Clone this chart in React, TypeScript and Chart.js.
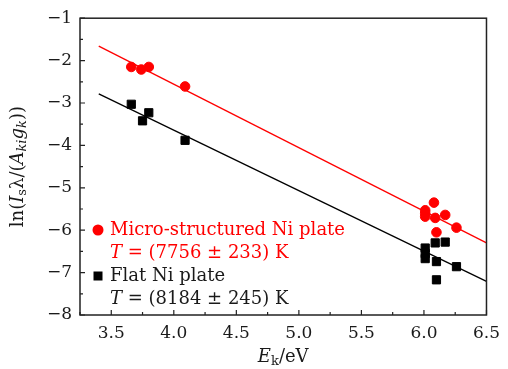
import React, { useEffect, useRef } from 'react';
import { Chart, registerables } from 'chart.js';

Chart.register(...registerables);

// ---- Data ----
const microX = [3.66, 3.74, 3.8, 4.09, 6.01, 6.01, 6.01, 6.08, 6.09, 6.1, 6.17, 6.26];
const microY = [-2.15, -2.21, -2.15, -2.61, -5.53, -5.6, -5.68, -5.35, -5.71, -6.05, -5.64, -5.94];
const flatX = [3.66, 3.75, 3.8, 4.09, 6.01, 6.01, 6.01, 6.09, 6.17, 6.1, 6.26, 6.1];
const flatY = [-3.03, -3.42, -3.23, -3.88, -6.42, -6.55, -6.67, -6.3, -6.28, -6.74, -6.86, -7.17];
const fitX = [3.4, 6.5];
const microFitY = [-1.66, -6.3];
const flatFitY = [-2.785, -7.205];
const xTicks = [3.5, 4.0, 4.5, 5.0, 5.5, 6.0, 6.5];
const yTicks = [-1, -2, -3, -4, -5, -6, -7, -8];
const xMinor = [3.25, 3.75, 4.25, 4.75, 5.25, 5.75, 6.25];
const yMinor = [-1.5, -2.5, -3.5, -4.5, -5.5, -6.5, -7.5];
const microLabel = 'Micro-structured Ni plate';
const microTemp = ' = (7756 ± 233) K';
const flatLabel = 'Flat Ni plate';
const flatTemp = ' = (8184 ± 245) K';

const FONT = "'DejaVu Serif', serif";
const TICK_SIZE = 17;
const SIZE = 18;
const RED = '#ff0000';
const BLACK = '#000000';
const TEXT = '#1a1a1a';

type Run = { t: string; i?: boolean; s?: boolean };

function fontFor(r: Run, size: number) {
  const sz = r.s ? Math.round(size * 0.7) : size;
  return `${r.i ? 'italic ' : ''}${sz}px ${FONT}`;
}

function drawRich(ctx: CanvasRenderingContext2D, runs: Run[], x: number, y: number, size: number, color: string, align: 'left' | 'center') {
  ctx.save();
  ctx.fillStyle = color;
  ctx.textBaseline = 'middle';
  ctx.textAlign = 'left';
  const widths = runs.map((r) => {
    ctx.font = fontFor(r, size);
    return ctx.measureText(r.t).width;
  });
  const total = widths.reduce((a, b) => a + b, 0);
  let cx = align === 'center' ? x - total / 2 : x;
  runs.forEach((r, k) => {
    ctx.font = fontFor(r, size);
    ctx.fillText(r.t, cx, r.s ? y + size * 0.28 : y);
    cx += widths[k];
  });
  ctx.restore();
}

const fmt = (v: number, d: number) => {
  const s = Math.abs(v).toFixed(d);
  return v < 0 ? '\u2212' + s : s;
};

const decorPlugin = {
  id: 'decor',
  afterDraw(chart: any) {
    const ctx: CanvasRenderingContext2D = chart.ctx;
    const { left, right, top, bottom } = chart.chartArea;
    const xs = chart.scales.x;
    const ys = chart.scales.y;
    ctx.save();
    // frame
    ctx.strokeStyle = '#222';
    ctx.lineWidth = 1.5;
    ctx.strokeRect(left, top, right - left, bottom - top);
    // ticks (inward)
    ctx.lineWidth = 1.2;
    ctx.beginPath();
    xTicks.forEach((v) => {
      const px = xs.getPixelForValue(v);
      ctx.moveTo(px, bottom);
      ctx.lineTo(px, bottom - 5);
    });
    xMinor.forEach((v) => {
      const px = xs.getPixelForValue(v);
      ctx.moveTo(px, bottom);
      ctx.lineTo(px, bottom - 3);
    });
    yTicks.forEach((v) => {
      const py = ys.getPixelForValue(v);
      ctx.moveTo(left, py);
      ctx.lineTo(left + 5, py);
    });
    yMinor.forEach((v) => {
      const py = ys.getPixelForValue(v);
      ctx.moveTo(left, py);
      ctx.lineTo(left + 3, py);
    });
    ctx.stroke();

    // x title
    drawRich(ctx, [{ t: 'E', i: true }, { t: 'k', s: true }, { t: '/eV' }], (left + right) / 2, 357, SIZE, TEXT, 'center');
    // y title
    ctx.save();
    ctx.translate(18, (top + bottom) / 2);
    ctx.rotate(-Math.PI / 2);
    drawRich(
      ctx,
      [
        { t: 'ln(' },
        { t: 'I', i: true },
        { t: 's', s: true },
        { t: 'λ/(' },
        { t: 'A', i: true },
        { t: 'ki', i: true, s: true },
        { t: 'g', i: true },
        { t: 'k', i: true, s: true },
        { t: '))' },
      ],
      0,
      0,
      SIZE,
      TEXT,
      'center'
    );
    ctx.restore();

    // legend
    const lx = left + 18;
    const tx = left + 30;
    ctx.fillStyle = RED;
    ctx.beginPath();
    ctx.arc(lx, bottom - 85, 5.5, 0, Math.PI * 2);
    ctx.fill();
    drawRich(ctx, [{ t: microLabel }], tx, bottom - 85, SIZE, RED, 'left');
    drawRich(ctx, [{ t: 'T', i: true }, { t: microTemp }], tx, bottom - 62, SIZE, RED, 'left');
    ctx.fillStyle = BLACK;
    ctx.fillRect(lx - 4.5, bottom - 39 - 4.5, 9, 9);
    drawRich(ctx, [{ t: flatLabel }], tx, bottom - 39, SIZE, TEXT, 'left');
    drawRich(ctx, [{ t: 'T', i: true }, { t: flatTemp }], tx, bottom - 16, SIZE, TEXT, 'left');
    ctx.restore();
  },
};

export default function App() {
  const ref = useRef<HTMLCanvasElement | null>(null);
  useEffect(() => {
    document.body.style.margin = '0';
    const canvas = ref.current;
    if (!canvas) return;
    const chart = new Chart(canvas, {
      type: 'scatter',
      data: {
        datasets: [
          {
            label: 'fitMicro',
            type: 'line',
            data: fitX.map((x, k) => ({ x, y: microFitY[k] })),
            borderColor: RED,
            borderWidth: 1.3,
            pointRadius: 0,
            showLine: true,
          } as any,
          {
            label: 'fitFlat',
            type: 'line',
            data: fitX.map((x, k) => ({ x, y: flatFitY[k] })),
            borderColor: BLACK,
            borderWidth: 1.3,
            pointRadius: 0,
            showLine: true,
          } as any,
          {
            label: microLabel,
            data: microX.map((x, k) => ({ x, y: microY[k] })),
            pointStyle: 'circle',
            pointRadius: 4.8,
            borderWidth: 1,
            backgroundColor: RED,
            borderColor: RED,
          },
          {
            label: flatLabel,
            data: flatX.map((x, k) => ({ x, y: flatY[k] })),
            pointStyle: 'rect',
            pointRadius: 5.8,
            borderWidth: 1,
            backgroundColor: BLACK,
            borderColor: BLACK,
          },
        ],
      },
      options: {
        animation: false,
        responsive: false,
        layout: { padding: { left: 0, right: 12, top: 13, bottom: 0 } },
        plugins: { legend: { display: false }, tooltip: { enabled: false } },
        scales: {
          x: {
            type: 'linear',
            min: 3.25,
            max: 6.5,
            grid: { display: false, drawTicks: false },
            border: { display: false },
            afterBuildTicks: (s: any) => {
              s.ticks = xTicks.map((v) => ({ value: v }));
            },
            afterFit: (s: any) => {
              s.height = 54;
            },
            ticks: {
              padding: 8,
              color: TEXT,
              font: { family: FONT, size: TICK_SIZE },
              maxRotation: 0,
              autoSkip: false,
              callback: (v: any) => fmt(Number(v), 1),
            },
          },
          y: {
            type: 'linear',
            min: -8,
            max: -1,
            grid: { display: false, drawTicks: false },
            border: { display: false },
            afterBuildTicks: (s: any) => {
              s.ticks = yTicks.map((v) => ({ value: v }));
            },
            afterFit: (s: any) => {
              s.width = 80;
            },
            ticks: {
              padding: 8,
              color: TEXT,
              font: { family: FONT, size: TICK_SIZE },
              autoSkip: false,
              callback: (v: any) => fmt(Number(v), 0),
            },
          },
        },
      } as any,
      plugins: [decorPlugin],
    });
    return () => chart.destroy();
  }, []);
  return (
    <div style={{ width: 508, height: 369, position: 'relative' }}>
      <canvas ref={ref} width={508} height={369} style={{ display: 'block', width: 508, height: 369 }} />
    </div>
  );
}
